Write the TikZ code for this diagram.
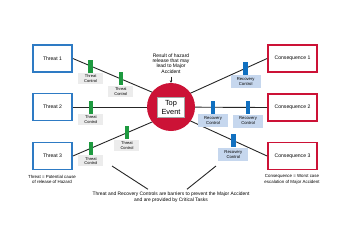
\documentclass[tikz,border=0pt]{standalone}
\usepackage{fontspec}
\setmainfont{Liberation Sans}
\usepackage{xcolor}
\definecolor{bt_blue}{HTML}{2E7BC4}
\definecolor{bt_red}{HTML}{CC1236}
\definecolor{bt_green}{HTML}{1E9A40}
\definecolor{bt_bar}{HTML}{1170C0}
\definecolor{bt_rcv}{HTML}{C6D7EE}
\definecolor{bt_grey}{HTML}{ECECEC}
\definecolor{bt_line}{HTML}{262626}
\usetikzlibrary{positioning,calc,arrows.meta}
\tikzset{THREAT/.style={rectangle,minimum width=39pt,minimum height=27pt,draw=bt_blue,line width=1.8pt,fill=white,font=\fontsize{5.1}{6}\selectfont}}
\tikzset{CONSEQ/.style={rectangle,minimum width=49pt,minimum height=27pt,draw=bt_red,line width=1.8pt,fill=white,font=\fontsize{5.1}{6}\selectfont}}
\tikzset{TBAR/.style={rectangle,inner sep=0pt,minimum width=4.6pt,minimum height=13pt,fill=bt_green}}
\tikzset{RBAR/.style={rectangle,inner sep=0pt,minimum width=4.6pt,minimum height=13pt,fill=bt_bar}}
\tikzset{TLABEL/.style={rectangle,inner sep=0pt,minimum width=25pt,minimum height=11pt,fill=bt_grey,align=center,font=\fontsize{4}{4.6}\selectfont,anchor=north}}
\tikzset{RLABEL/.style={rectangle,inner sep=0pt,minimum width=30pt,minimum height=13pt,fill=bt_rcv,align=center,font=\fontsize{4.2}{5}\selectfont,anchor=north}}
\tikzset{NOTE/.style={align=center,inner sep=0pt,font=\fontsize{4.4}{5.4}\selectfont}}
\tikzset{LINK/.style={draw=bt_line,line width=0.9pt}}
\tikzset{ARROW/.style={draw=bt_line,line width=0.5pt,-{Stealth[length=2.5pt,width=2.5pt]}}}

\begin{document}
\begin{tikzpicture}[x=1pt,y=-1pt]
\useasboundingbox (0,0) rectangle (350,250);

\node[THREAT] (n_threat1) at (52.5,58.5) {Threat 1};
\node[THREAT] (n_threat2) at (52.5,107) {Threat 2};
\node[THREAT] (n_threat3) at (52.5,156) {Threat 3};

\node[CONSEQ] (n_conseq1) at (292.5,58.5) {Consequence 1};
\node[CONSEQ] (n_conseq2) at (292.5,107.5) {Consequence 2};
\node[CONSEQ] (n_conseq3) at (292.5,156) {Consequence 3};

\coordinate (c_top) at (171,107);
\coordinate (c_hub_t) at ($(c_top)+(16,0)$);
\coordinate (c_hub_c) at ($(c_top)+(-11,0)$);

% threat side
\draw[LINK] (n_threat1.east) -- (c_hub_t)
    node[TBAR,pos=0.155] (n_tbar11) {}
    node[TBAR,pos=0.42] (n_tbar12) {};
\draw[LINK] (n_threat2.east) -- (c_hub_t)
    node[TBAR,pos=0.158] (n_tbar21) {};
\draw[LINK] (n_threat3.east) -- (c_hub_t)
    node[TBAR,pos=0.158] (n_tbar31) {}
    node[TBAR,pos=0.474] (n_tbar32) {};

% consequence side
\draw[LINK] (n_conseq1.west) -- (c_hub_c)
    node[RBAR,pos=0.2] (n_rbar11) {};
\draw[LINK] (n_conseq2.west) -- (c_hub_c)
    node[RBAR,pos=0.178] (n_rbar21) {}
    node[RBAR,pos=0.505] (n_rbar22) {};
\draw[LINK] (n_conseq3.west) -- (c_hub_c)
    node[RBAR,pos=0.315] (n_rbar31) {};

\node[TLABEL] (n_tlab11) at (n_tbar11.south) {Threat\\Control};
\node[TLABEL] (n_tlab12) at (n_tbar12.south) {Threat\\Control};
\node[TLABEL] (n_tlab21) at (n_tbar21.south) {Threat\\Control};
\node[TLABEL] (n_tlab31) at (n_tbar31.south) {Threat\\Control};
\node[TLABEL] (n_tlab32) at (n_tbar32.south) {Threat\\Control};

\node[RLABEL] (n_rlab11) at (n_rbar11.south) {Recovery\\Control};
\node[RLABEL] (n_rlab21) at (n_rbar21.south) {Recovery\\Control};
\node[RLABEL] (n_rlab22) at (n_rbar22.south) {Recovery\\Control};
\node[RLABEL] (n_rlab31) at (n_rbar31.south) {Recovery\\Control};

\node[circle,fill=bt_red,minimum size=48pt,inner sep=0pt] (n_top) at (c_top) {};
\node[rectangle,fill=white,draw=gray!70,line width=0.4pt,minimum width=27pt,minimum height=20pt,inner sep=0pt,align=center,
    font=\fontsize{7.4}{9}\selectfont] (n_top_box) at (c_top) {Top\\Event};

\node[NOTE,font=\fontsize{5}{5.4}\selectfont,anchor=south] (n_result) at (171,73.5) {Result of hazard\\release that may\\lead to Major\\Accident};
\draw[ARROW] ([yshift=-3pt]n_result.south) -- (n_top.north);

\node[NOTE] (n_threat_def) at (52,179.5) {Threat = Potential cause\\of release of Hazard};
\node[NOTE] (n_conseq_def) at (292,179.5) {Consequence = Worst case\\escalation of Major Accident};

\node[NOTE,font=\fontsize{4.9}{6.5}\selectfont] (n_barrier) at (171,197) {Threat and Recovery Controls are barriers to prevent the Major Accident\\and are provided by Critical Tasks};

\coordinate (c_ptr_l) at (112,166);
\coordinate (c_ptr_r) at (216,166);
\draw[LINK] (c_ptr_l) -- ($(n_barrier.north)+(-23,-2)$);
\draw[LINK] (c_ptr_r) -- ($(n_barrier.north)+(16,-2)$);

\end{tikzpicture}
\end{document}
